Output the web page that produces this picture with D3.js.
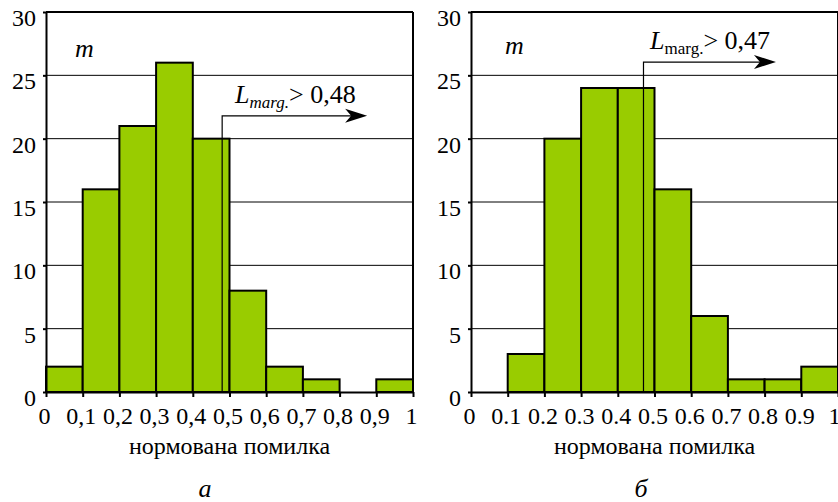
<!DOCTYPE html>
<html>
<head>
<meta charset="utf-8">
<script src="https://cdn.jsdelivr.net/npm/d3@7"></script>
<style>
  body { margin: 0; background: #fff; }
  svg { display: block; }
</style>
</head>
<body>
<svg id="chart" width="838" height="502"></svg>
<script>
// histogram counts per 0.1 bin of normalised error
var binStarts = [0, 0.1, 0.2, 0.3, 0.4, 0.5, 0.6, 0.7, 0.8, 0.9];
var countsA = [2, 16, 21, 26, 20, 8, 2, 1, 0, 1];
var countsB = [0, 3, 20, 24, 24, 16, 6, 1, 1, 2];
var tickValuesX = [0, 0.1, 0.2, 0.3, 0.4, 0.5, 0.6, 0.7, 0.8, 0.9, 1];
var tickLabelsA = ["0", "0,1", "0,2", "0,3", "0,4", "0,5", "0,6", "0,7", "0,8", "0,9", "1"];
var tickLabelsB = ["0", "0.1", "0.2", "0.3", "0.4", "0.5", "0.6", "0.7", "0.8", "0.9", "1"];
var tickValuesY = [0, 5, 10, 15, 20, 25, 30];
var margA = 0.48, margB = 0.47;
var margLabelA = "> 0,48", margLabelB = "> 0,47";
var xTitle = "нормована помилка";

var serif = "'Liberation Serif'";
var green = "#99cc00";
var svg = d3.select("#chart");

function drawPanel(p) {
  var g = svg.append("g");
  var x = d3.scaleLinear().domain([0, 1]).range([p.left, p.right]);
  var y = d3.scaleLinear().domain([0, 30]).range([392, 12]);

  // horizontal grid lines
  g.selectAll(".grid")
    .data(tickValuesY.filter(function(v) { return v > 0 && v < 30; }))
    .enter().append("line")
    .attr("x1", p.left).attr("x2", p.right)
    .attr("y1", function(d) { return y(d); })
    .attr("y2", function(d) { return y(d); })
    .attr("stroke", "#000").attr("stroke-width", 1);

  // bars
  var bins = binStarts.map(function(s, i) { return { x0: s, x1: s + 0.1, n: p.counts[i] }; })
    .filter(function(b) { return b.n > 0; });
  g.selectAll(".bar").data(bins).enter().append("rect")
    .attr("x", function(d) { return x(d.x0); })
    .attr("width", function(d) { return x(d.x1) - x(d.x0); })
    .attr("y", function(d) { return y(d.n); })
    .attr("height", function(d) { return y(0) - y(d.n); })
    .attr("fill", green)
    .attr("stroke", "#000").attr("stroke-width", 2);

  // frame: top and right
  g.append("line").attr("x1", p.left).attr("x2", p.right)
    .attr("y1", y(30)).attr("y2", y(30))
    .attr("stroke", "#000").attr("stroke-width", 2);
  g.append("line").attr("x1", p.right).attr("x2", p.right)
    .attr("y1", y(0)).attr("y2", y(30))
    .attr("stroke", "#000").attr("stroke-width", 2);

  // y axis
  var ya = g.append("g")
    .attr("transform", "translate(" + p.left + ",0)")
    .call(d3.axisLeft(y).tickValues(tickValuesY).tickSize(3).tickSizeOuter(0).tickPadding(7));
  ya.selectAll("text").attr("dy", "0.56em").attr("fill", "#000")
    .style("font-family", serif).style("font-size", "24px");
  ya.selectAll("path, line").attr("stroke", "#000").attr("stroke-width", 2);

  // x axis
  var xa = g.append("g")
    .attr("transform", "translate(0," + y(0) + ")")
    .call(d3.axisBottom(x).tickValues(tickValuesX).tickSize(5).tickSizeOuter(0).tickPadding(10)
      .tickFormat(function(d, i) { return p.labels[i]; }));
  xa.selectAll("text").attr("fill", "#000")
    .style("font-family", serif).style("font-size", "24px")
    .attr("dx", function(d) { return d === 1 ? p.lastDx : -2; });
  xa.selectAll("path, line").attr("stroke", "#000").attr("stroke-width", 2);

  // "m" label
  g.append("text").attr("x", p.mX).attr("y", p.mY)
    .style("font-family", serif).style("font-size", "26px").style("font-style", "italic")
    .text("m");

  // L_marg marker and arrow
  var mx = x(p.marg), ay = y(p.arrowY), tip = x(p.arrowTip);
  g.append("path")
    .attr("d", "M" + mx + "," + y(0) + "V" + ay + "H" + (tip - 12))
    .attr("fill", "none").attr("stroke", "#000").attr("stroke-width", 1.2);
  g.append("path")
    .attr("d", "M" + tip + "," + ay + "L" + (tip - 22) + "," + (ay - 7) +
      "L" + (tip - 16) + "," + ay + "L" + (tip - 22) + "," + (ay + 7) + "Z")
    .attr("fill", "#000");

  var t = g.append("text").attr("x", x(p.textX)).attr("y", y(p.textY))
    .style("font-family", serif).style("font-size", "26px");
  t.append("tspan").style("font-style", "italic").text("L");
  t.append("tspan").style("font-size", "17px").attr("dy", 5)
    .style("font-style", p.subItalic ? "italic" : "normal").text("marg.");
  t.append("tspan").attr("dy", -5).text(p.margLabel);

  // axis title and caption
  g.append("text").attr("x", (p.left + p.right) / 2).attr("y", 454)
    .attr("text-anchor", "middle")
    .style("font-family", serif).style("font-size", "24px")
    .text(xTitle);
  g.append("text").attr("x", p.capX).attr("y", 497)
    .attr("text-anchor", "middle")
    .style("font-family", serif).style("font-size", "26px").style("font-style", "italic")
    .text(p.caption);
}

drawPanel({
  left: 46, right: 413, counts: countsA, labels: tickLabelsA, lastDx: -2,
  marg: margA, margLabel: margLabelA, subItalic: true,
  arrowY: 21.8, arrowTip: 0.875, textX: 0.515, textY: 22.8,
  mX: 75, mY: 57, capX: 205, caption: "а"
});
drawPanel({
  left: 471, right: 838, counts: countsB, labels: tickLabelsB, lastDx: -4,
  marg: margB, margLabel: margLabelB, subItalic: false,
  arrowY: 26.05, arrowTip: 0.831, textX: 0.488, textY: 27.1,
  mX: 505, mY: 54, capX: 641, caption: "б"
});
</script>
</body>
</html>
